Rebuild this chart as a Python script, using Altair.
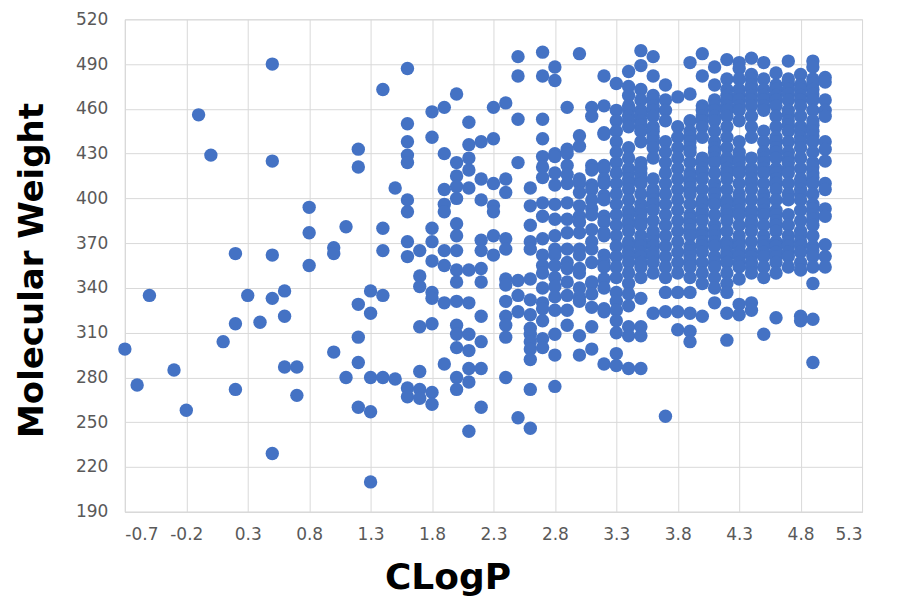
import altair as alt
import pandas as pd

# CLogP values (x) for each vertical column of points
column_clogp = [-0.7, -0.6, -0.5, -0.3, -0.2, -0.1, 0.0, 0.1, 0.2, 0.3, 0.4, 0.5,
                0.6, 0.7, 0.8, 1.0, 1.1, 1.2, 1.3, 1.4, 1.5, 1.6, 1.7, 1.8, 1.9,
                2.0, 2.1, 2.2, 2.3, 2.4, 2.5, 2.6, 2.7, 2.8, 2.9, 3.0, 3.1, 3.2,
                3.3, 3.4, 3.5, 3.6, 3.7, 3.8, 3.9, 4.0, 4.1, 4.2, 4.3, 4.4, 4.5,
                4.6, 4.7, 4.8, 4.9, 5.0]

# Molecular weights of the points in each column
mw_m07 = [299]
mw_m06 = [275]
mw_m05 = [335]
mw_m03 = [285]
mw_m02 = [258]
mw_m01 = [456]
mw_00 = [429]
mw_01 = [304]
mw_02 = [363, 316, 272]
mw_03 = [335]
mw_04 = [317]
mw_05 = [490, 425, 362, 333, 229]
mw_06 = [338, 321, 287]
mw_07 = [287, 268]
mw_08 = [394, 377, 355]
mw_10 = [367, 363, 297]
mw_11 = [381, 280]
mw_12 = [433, 421, 329, 307, 290, 260]
mw_13 = [338, 323, 280, 257, 210]
mw_14 = [473, 380, 365, 335, 280]
mw_15 = [407, 279]
mw_16 = [487, 450, 438, 429, 424, 399, 391, 371, 361, 273, 267]
mw_17 = [365, 348, 341, 314, 284, 272, 266]
mw_18 = [458, 441, 380, 371, 358, 337, 333, 316, 270, 262]
mw_19 = [461, 430, 406, 396, 391, 365, 355, 330, 289]
mw_20 = [470, 424, 415, 408, 400, 383, 375, 365, 352, 344, 331, 315, 309, 300, 280, 272]
mw_21 = [451, 436, 427, 419, 407, 352, 330, 309, 298, 286, 277, 244]
mw_22 = [438, 413, 399, 372, 365, 353, 344, 321, 304, 286, 260]
mw_23 = [461, 440, 410, 395, 391, 375, 362]
mw_24 = [464, 413, 404, 373, 366, 346, 342, 331, 321, 315, 307, 280]
mw_25 = [495, 482, 453, 424, 345, 335, 324, 253]
mw_26 = [407, 395, 382, 371, 366, 346, 332, 322, 313, 309, 304, 299, 292, 272, 246]
mw_27 = [498, 482, 453, 440, 428, 421, 414, 397, 388, 373, 362, 355, 350, 340, 330,
         326, 318, 306, 300]
mw_28 = [488, 479, 430, 428, 417, 409, 396, 386, 375, 366, 362, 355, 347, 341, 334,
         325, 309, 295, 274]
mw_29 = [461, 433, 430, 422, 416, 410, 397, 386, 377, 366, 357, 353, 344, 335, 325, 315]
mw_30 = [497, 442, 435, 413, 410, 404, 395, 388, 384, 377, 366, 362, 353, 350, 340,
         334, 331, 308, 295]
mw_31 = [461, 455, 422, 419, 409, 406, 399, 393, 389, 379, 371, 366, 357, 344, 343,
         336, 327, 314, 299]
mw_32 = [482, 462, 444, 443, 422, 420, 413, 410, 402, 399, 388, 384, 377, 375, 362,
         357, 354, 346, 340, 326, 324, 289]
mw_33 = [477, 459, 452, 445, 438, 431, 424, 417, 410, 403, 396, 389, 382, 375, 368,
         361, 354, 347, 337, 331, 325, 318, 310, 296, 288]
mw_34 = [485, 475, 469, 462, 459, 455, 452, 448, 434, 427, 420, 417, 413, 410, 406,
         399, 392, 389, 385, 382, 378, 371, 368, 364, 361, 357, 350, 343, 336, 328,
         314, 308, 286]
mw_35 = [499, 489, 473, 466, 459, 456, 452, 449, 445, 438, 424, 420, 417, 413, 410,
         403, 396, 392, 389, 385, 382, 375, 371, 368, 364, 361, 357, 354, 347, 333,
         314, 308, 286]
mw_36 = [495, 482, 469, 466, 462, 459, 455, 448, 445, 441, 438, 434, 427, 413, 406,
         403, 399, 396, 392, 385, 378, 375, 371, 368, 364, 361, 357, 350, 323]
mw_37 = [476, 466, 459, 452, 438, 431, 424, 417, 410, 403, 396, 389, 382, 375, 368,
         361, 354, 347, 337, 324, 254]
mw_38 = [468, 448, 441, 434, 427, 420, 413, 406, 399, 392, 385, 378, 371, 364, 357,
         350, 337, 324, 312]
mw_39 = [491, 470, 452, 445, 441, 438, 434, 431, 424, 417, 414, 410, 407, 403, 396,
         389, 386, 382, 379, 375, 368, 365, 361, 358, 354, 347, 337, 323, 311, 304]
mw_40 = [497, 482, 462, 459, 455, 452, 448, 441, 427, 424, 420, 417, 413, 406, 399,
         396, 392, 389, 385, 378, 375, 371, 368, 364, 357, 350, 343, 321]
mw_41 = [488, 476, 466, 462, 459, 455, 452, 445, 438, 434, 431, 427, 424, 417, 410,
         406, 403, 399, 396, 389, 382, 378, 375, 371, 368, 361, 357, 354, 347, 340, 330]
mw_42 = [493, 480, 473, 469, 466, 462, 459, 455, 448, 441, 434, 427, 424, 420, 417,
         413, 406, 399, 396, 392, 389, 385, 378, 371, 368, 364, 361, 357, 350, 343,
         337, 323, 305]
mw_43 = [491, 487, 480, 473, 469, 466, 462, 459, 452, 438, 431, 427, 424, 420, 417,
         410, 403, 399, 396, 392, 389, 382, 375, 371, 368, 364, 361, 357, 354, 346,
         329, 322]
mw_44 = [494, 483, 480, 476, 473, 469, 466, 462, 455, 448, 441, 427, 420, 417, 413,
         410, 406, 399, 392, 389, 385, 382, 378, 371, 364, 361, 357, 354, 350, 330, 325]
mw_45 = [491, 480, 473, 469, 466, 462, 459, 445, 438, 431, 427, 424, 420, 417, 410,
         403, 399, 396, 392, 389, 382, 375, 371, 368, 364, 361, 354, 347, 309]
mw_46 = [484, 476, 473, 469, 466, 462, 455, 448, 441, 438, 434, 431, 427, 420, 417,
         413, 410, 406, 399, 392, 389, 385, 382, 378, 371, 368, 364, 361, 357, 350, 320]
mw_47 = [492, 480, 477, 473, 470, 466, 459, 456, 452, 449, 445, 438, 431, 427, 424,
         420, 417, 410, 403, 399, 389, 382, 375, 371, 368, 364, 361, 354]
mw_48 = [483, 476, 473, 469, 466, 462, 455, 448, 445, 441, 438, 434, 427, 420, 413,
         410, 406, 403, 399, 392, 385, 378, 375, 371, 368, 364, 357, 352, 321, 318]
mw_49 = [492, 488, 480, 477, 473, 470, 466, 459, 452, 449, 445, 442, 438, 431, 424,
         421, 417, 414, 410, 403, 396, 393, 389, 386, 382, 375, 368, 365, 361, 354,
         343, 319, 290]
mw_50 = [481, 478, 466, 459, 455, 438, 433, 425, 410, 406, 393, 388, 369, 361, 354]

column_mw = [mw_m07, mw_m06, mw_m05, mw_m03, mw_m02, mw_m01, mw_00, mw_01, mw_02,
             mw_03, mw_04, mw_05, mw_06, mw_07, mw_08, mw_10, mw_11, mw_12, mw_13,
             mw_14, mw_15, mw_16, mw_17, mw_18, mw_19, mw_20, mw_21, mw_22, mw_23,
             mw_24, mw_25, mw_26, mw_27, mw_28, mw_29, mw_30, mw_31, mw_32, mw_33,
             mw_34, mw_35, mw_36, mw_37, mw_38, mw_39, mw_40, mw_41, mw_42, mw_43,
             mw_44, mw_45, mw_46, mw_47, mw_48, mw_49, mw_50]

x_ticks = [-0.7, -0.2, 0.3, 0.8, 1.3, 1.8, 2.3, 2.8, 3.3, 3.8, 4.3, 4.8, 5.3]
y_ticks = [190, 220, 250, 280, 310, 340, 370, 400, 430, 460, 490, 520]

rows = [{"CLogP": cx, "MW": m} for cx, ys in zip(column_clogp, column_mw) for m in ys]
df = pd.DataFrame(rows)

LABEL_FONT = "DejaVu Sans"
TITLE_FONT = "DejaVu Sans"
GRID = "#d9d9d9"

x_label_expr = "replace(format(datum.value, '.1f'), '\u2212', '-')"

chart = alt.Chart(df).mark_circle(size=180, opacity=1, color="#4472C4").encode(
    x=alt.X("CLogP:Q",
            scale=alt.Scale(domain=[-0.7, 5.3], nice=False, zero=False),
            axis=alt.Axis(values=x_ticks, labelExpr=x_label_expr, title="CLogP",
                          grid=True, gridColor=GRID, domainColor=GRID,
                          ticks=False, labelPadding=15, labelFontSize=17,
                          labelColor="#595959", labelFont=LABEL_FONT,
                          titleFont=TITLE_FONT, titleFontSize=36, titleFontWeight="bold",
                          titleColor="#000000", titleX=323, titleY=77,
                          titleAlign="center", titleBaseline="alphabetic")),
    y=alt.Y("MW:Q",
            scale=alt.Scale(domain=[190, 520], nice=False, zero=False),
            axis=alt.Axis(values=y_ticks, title="Molecular Weight",
                          grid=True, gridColor=GRID, domainColor=GRID,
                          ticks=False, labelPadding=17, labelFontSize=17,
                          labelColor="#595959", labelFont=LABEL_FONT,
                          titleFont=TITLE_FONT, titleFontSize=34, titleFontWeight="bold",
                          titleColor="#000000", titleX=-82, titleY=251,
                          titleAlign="center", titleBaseline="alphabetic", titleAngle=-90)),
).properties(
    width=738, height=493,
    autosize=alt.AutoSizeParams(type="none"),
    padding={"left": 117, "top": 11, "right": 30, "bottom": 90},
).configure_view(stroke=GRID)

chart.save("out.html", embed_options={"renderer": "svg", "actions": False})
